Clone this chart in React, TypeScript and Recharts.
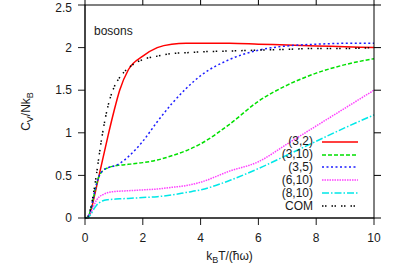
import React from 'react';
import {
  LineChart, Line, XAxis, YAxis, Legend
} from 'recharts';

// temperature grid, k_B T / (hbar omega)
const temps = [0, 0.1, 0.2, 0.3, 0.4, 0.5, 0.6, 0.8, 1, 1.2, 1.5, 2, 2.5, 3, 3.5, 4, 5, 6, 7, 8, 9, 10];

// C_V / N k_B for each (N, L) system
const c32 = [0, 0, 0.08, 0.22, 0.37, 0.52, 0.67, 0.97, 1.25, 1.5, 1.74, 1.9, 2.0, 2.04, 2.05, 2.05, 2.05, 2.04, 2.03, 2.02, 2.01, 2.0];
const c310 = [0, 0.01, 0.1, 0.25, 0.4, 0.5, 0.55, 0.59, 0.61, 0.62, 0.63, 0.65, 0.68, 0.73, 0.79, 0.87, 1.1, 1.37, 1.56, 1.7, 1.8, 1.87];
const c35 = [0, 0.01, 0.1, 0.25, 0.4, 0.5, 0.55, 0.59, 0.61, 0.64, 0.72, 0.9, 1.13, 1.34, 1.52, 1.67, 1.86, 1.97, 2.02, 2.04, 2.05, 2.05];
const c610 = [0, 0.01, 0.06, 0.14, 0.21, 0.25, 0.27, 0.3, 0.31, 0.315, 0.32, 0.33, 0.34, 0.36, 0.38, 0.42, 0.55, 0.66, 0.87, 1.08, 1.29, 1.5];
const c810 = [0, 0.005, 0.04, 0.1, 0.15, 0.18, 0.2, 0.215, 0.22, 0.225, 0.23, 0.24, 0.25, 0.27, 0.3, 0.33, 0.44, 0.58, 0.74, 0.9, 1.06, 1.21];
const com = [0, 0.02, 0.12, 0.3, 0.52, 0.76, 0.98, 1.32, 1.53, 1.65, 1.76, 1.86, 1.9, 1.93, 1.94, 1.95, 1.96, 1.97, 1.98, 1.99, 1.99, 2.0];

const seriesNames = ['(3,2)', '(3,10)', '(3,5)', '(6,10)', '(8,10)', 'COM'];
const xTicks = [0, 2, 4, 6, 8, 10];
const yTicks = [0, 0.5, 1, 1.5, 2, 2.5];

const data = temps.map((t, i) => ({
  t,
  s0: c32[i],
  s1: c310[i],
  s2: c35[i],
  s3: c610[i],
  s4: c810[i],
  s5: com[i],
}));

const STYLES: Record<string, { color: string; dash?: string }> = {
  s0: { color: '#ff0000' },
  s1: { color: '#00e000', dash: '4 2' },
  s2: { color: '#1c1cff', dash: '2 2.5' },
  s3: { color: '#ff40ff', dash: '1.5 1' },
  s4: { color: '#00e8e8', dash: '7 2 1.5 2' },
  s5: { color: '#000000', dash: '1.5 1.5 1.5 5' },
};

const FONT = '"Liberation Sans", Arial, Helvetica, sans-serif';
const INK = '#1a1a1a';
const TICK = 7;

// chart geometry
const W = 399;
const H = 279;
const M = { top: 5, right: 25, left: 0, bottom: 0 };
const Y_AXIS_W = 85;
const X_AXIS_H = 61;
const PLOT = {
  x: M.left + Y_AXIS_W,
  y: M.top,
  w: W - M.left - M.right - Y_AXIS_W,
  h: H - M.top - M.bottom - X_AXIS_H,
};

// full gnuplot-style box with outward mirror ticks on top/right,
// drawn in an overlay above the chart
const Frame = () => {
  const xMax = xTicks[xTicks.length - 1];
  const yMax = yTicks[yTicks.length - 1];
  const right = PLOT.x + PLOT.w;
  const bottom = PLOT.y + PLOT.h;
  return (
    <svg
      width={W} height={H} viewBox={`0 0 ${W} ${H}`}
      style={{ position: 'absolute', left: 0, top: 0, zIndex: 10, pointerEvents: 'none', overflow: 'visible' }}
    >
      <rect x={PLOT.x} y={PLOT.y} width={PLOT.w} height={PLOT.h} fill="none" stroke="#000" strokeWidth={1} />
      {xTicks.map((t) => {
        const px = PLOT.x + (t / xMax) * PLOT.w;
        return <rect key={`tx${t}`} x={px - 0.5} y={PLOT.y - TICK} width={1} height={TICK} fill="#000" />;
      })}
      {yTicks.map((v) => {
        const py = bottom - (v / yMax) * PLOT.h;
        return <rect key={`ty${v}`} x={right} y={py - 0.5} width={TICK} height={1} fill="#000" />;
      })}
      <text x={94} y={35} fontFamily={FONT} fontSize={12} fill={INK}>bosons</text>
    </svg>
  );
};

const XLabel = (props: any) => {
  const vb = props.viewBox;
  const cx = vb.x + vb.width / 2;
  return (
    <text x={cx} y={vb.y + 42} textAnchor="middle" fontFamily={FONT} fontSize={12} fill={INK}>
      <tspan>k</tspan>
      <tspan dy={3} fontSize={9}>B</tspan>
      <tspan dy={-3}>T/(ħω)</tspan>
    </text>
  );
};

const YLabel = (props: any) => {
  const vb = props.viewBox;
  const cy = vb.y + vb.height / 2;
  const x = 30;
  return (
    <text x={x} y={cy} transform={`rotate(-90, ${x}, ${cy})`} textAnchor="middle" fontFamily={FONT} fontSize={12} fill={INK}>
      <tspan>C</tspan>
      <tspan dy={3} fontSize={9}>V</tspan>
      <tspan dy={-3}>/Nk</tspan>
      <tspan dy={3} fontSize={9}>B</tspan>
    </text>
  );
};

const LegendBox = (props: any) => {
  const entries = [...(props.payload || [])]
    .filter((e: any) => seriesNames.includes(e.value))
    .sort((a: any, b: any) => seriesNames.indexOf(a.value) - seriesNames.indexOf(b.value));
  return (
    <div style={{ fontFamily: FONT, fontSize: 12, color: INK }}>
      {entries.map((entry: any) => {
        const st = STYLES[entry.dataKey];
        return (
          <div key={entry.dataKey} style={{ display: 'flex', alignItems: 'center', height: 12.85, lineHeight: '12.85px' }}>
            <span style={{ width: 60, textAlign: 'right' }}>{entry.value}</span>
            <svg width={36} height={4} style={{ marginLeft: 9 }}>
              <line x1={0} y1={2} x2={36} y2={2} stroke={st.color} strokeWidth={1.5} strokeDasharray={st.dash} />
            </svg>
          </div>
        );
      })}
    </div>
  );
};

export default function App() {
  return (
    <div style={{ position: 'absolute', left: 0, top: 0, width: W, height: H, background: '#fff' }}>
      <LineChart width={W} height={H} data={data} margin={M}>
        <XAxis
          dataKey="t" type="number" domain={[0, 10]} ticks={xTicks} height={X_AXIS_H}
          stroke={INK} tickSize={TICK} tickMargin={8}
          tick={{ fontFamily: FONT, fontSize: 12, fill: INK }}
          label={<XLabel />}
        />
        <YAxis
          type="number" domain={[0, 2.5]} ticks={yTicks} width={Y_AXIS_W}
          stroke={INK} tickSize={TICK} tickMargin={6}
          tick={{ fontFamily: FONT, fontSize: 12, fill: INK }}
          label={<YLabel />}
        />
        <Legend
          layout="vertical" align="center" verticalAlign="middle"
          wrapperStyle={{ left: 253, top: 135.3, width: 110 }}
          content={<LegendBox />}
        />
        {seriesNames.map((name, i) => {
          const key = `s${i}`;
          const st = STYLES[key];
          return (
            <Line
              key={key} dataKey={key} name={name} type="monotone"
              stroke={st.color} strokeWidth={1.5} strokeDasharray={st.dash}
              dot={false} activeDot={false} isAnimationActive={false}
            />
          );
        })}
      </LineChart>
      <Frame />
    </div>
  );
}
